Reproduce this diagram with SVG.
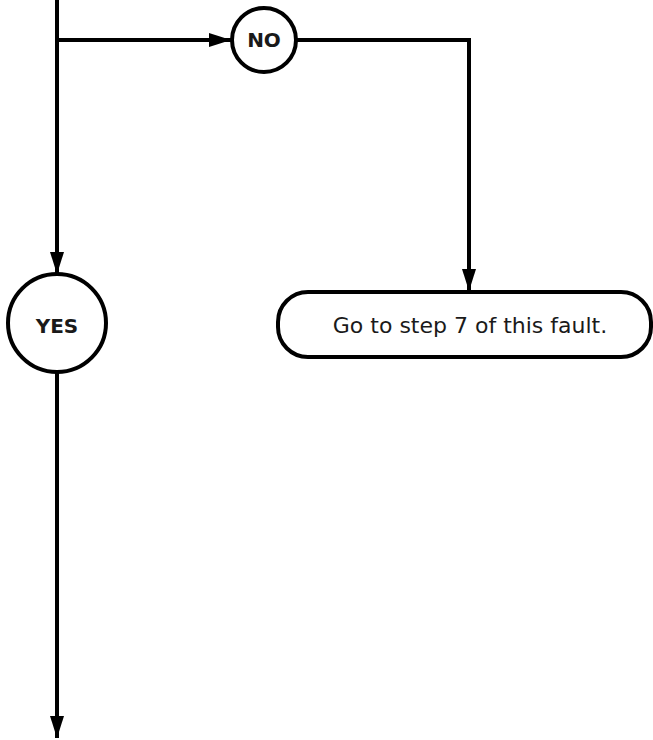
<svg xmlns="http://www.w3.org/2000/svg" width="653" height="740" viewBox="0 0 653 740">
<style>
.ln{fill:none;stroke:#000;stroke-width:4;stroke-linejoin:miter}
.nd{fill:#fff;stroke:#000;stroke-width:4}
.lb{font-family:"DejaVu Sans",Verdana,sans-serif;font-weight:bold;font-size:20px;fill:#1a1a1a;text-anchor:middle}
.tx{font-family:"DejaVu Sans",Verdana,sans-serif;font-size:22px;fill:#1a1a1a;text-anchor:middle}
</style>
<defs>
<marker id="ah" markerUnits="userSpaceOnUse" markerWidth="22" markerHeight="14" refX="22" refY="7" orient="auto">
<path d="M0,0 L22,7 L0,14 Z" fill="#000"/>
</marker>
</defs>
<g id="connectors">
<path class="ln" d="M57,0 V274" marker-end="url(#ah)"/>
<path class="ln" d="M57,40 H231" marker-end="url(#ah)"/>
<path class="ln" d="M296,40 H469 V291" marker-end="url(#ah)"/>
<path class="ln" d="M57,372 V738" marker-end="url(#ah)"/>
</g>
<g id="node-no">
<circle class="nd" cx="264" cy="40" r="32"/>
<text class="lb" x="264" y="47">NO</text>
</g>
<g id="node-yes">
<circle class="nd" cx="57" cy="323" r="49"/>
<text class="lb" x="57" y="333">YES</text>
</g>
<g id="node-step7">
<rect class="nd" x="278" y="292" width="373" height="65" rx="30" ry="30"/>
<text class="tx" x="470" y="333">Go to step 7 of this fault.</text>
</g>
</svg>
